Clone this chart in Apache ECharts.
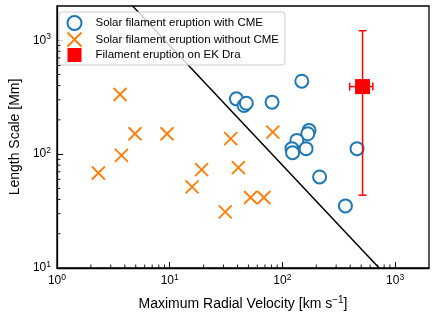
<!DOCTYPE html>
<html><head><meta charset="utf-8">
<script src="https://cdn.jsdelivr.net/npm/echarts@6/dist/echarts.min.js"></script>
<style>html,body{margin:0;padding:0;background:#fff}#c{width:436px;height:322px}</style>
</head><body><div id="c"></div>
<script>
const seriesNames = ['Solar filament eruption with CME', 'Solar filament eruption without CME', 'Filament eruption on EK Dra'];
const withCME = [[39.1,306],[45.7,267.5],[47.9,280],[81,286],[148.7,437],[172.4,161.6],[168,151],[134.4,132],[121.5,111.7],[123.2,103],[162.3,111.7],[214,63],[459.6,111.7],[362.6,35.1]];
const withoutCME = [[2.33,68.3],[3.63,334],[3.73,97.6],[4.92,151],[9.47,151],[15.8,51.5],[19.2,73.2],[31.1,31.1],[34.8,136.7],[40.7,76.2],[52.2,41.6],[68.5,41.6],[82.2,156]];
const ekDra = [[514.6,392]];
// v, L, vLow, vHigh, LLow, LHigh
const ekDraErr = [[514.6,392,395.6,635,43.6,1213]];
const boundary = [[4.69,2000],[722,10]];
const xMinorTicks = [2,3,4,5,6,7,8,9,20,30,40,50,60,70,80,90,200,300,400,500,600,700,800,900];
const yMinorTicks = [20,30,40,50,60,70,80,90,200,300,400,500,600,700,800,900];
const xRange = [1, 2000];
const yRange = [10, 2000];

const FONT = 'Liberation Sans';
function powLabel(v) {
  const e = Math.log10(v);
  if (Math.abs(e - Math.round(e)) > 1e-6 || v >= 1999) return '';
  return '{b|10}{s|' + Math.round(e) + '}';
}
const labelRich = {
  b: {fontSize: 12, fontFamily: FONT, color: '#000'},
  s: {fontSize: 8.5, fontFamily: FONT, color: '#000', verticalAlign: 'top', padding: [0,0,7,0]}
};
const SQUARE = 'path://M0,0L10,0L10,10L0,10Z';
const CROSS = 'path://M0,0L10,10M10,0L0,10';
const chart = echarts.init(document.getElementById('c'), null, {renderer: 'canvas'});
chart.setOption({
  animation: false,
  backgroundColor: '#fff',
  grid: {left: 53, top: 6, width: 376, height: 262, show: true, borderColor: '#000', borderWidth: 1.3, backgroundColor: 'transparent'},
  legend: {
    data: [
      {name: seriesNames[0], icon: 'emptyCircle'},
      {name: seriesNames[1], icon: CROSS},
      {name: seriesNames[2], icon: SQUARE}
    ],
    orient: 'vertical', left: 59, top: 12,
    itemWidth: 30, itemHeight: 14, itemGap: -1,
    padding: [3, 6, 3, 6],
    backgroundColor: 'rgba(255,255,255,0.8)', borderColor: '#cccccc', borderWidth: 1, borderRadius: 3,
    textStyle: {fontFamily: FONT, fontSize: 11.5, color: '#000', padding: [0,0,0,1]},
    selectedMode: false
  },
  xAxis: {
    type: 'log', logBase: 10, min: xRange[0], max: xRange[1],
    name: 'Maximum Radial Velocity [km s{s|−1}]', nameLocation: 'middle', nameGap: 27,
    nameTextStyle: {fontFamily: FONT, fontSize: 14, color: '#000', rich: {s: {fontSize: 10, fontFamily: FONT, color: '#000', verticalAlign: 'top', padding: [0,0,8,0]}}},
    axisLine: {show: true, lineStyle: {color: '#000', width: 1.3}},
    axisTick: {show: true, inside: true, length: 6, lineStyle: {color: '#000', width: 1}},
    axisLabel: {formatter: powLabel, rich: labelRich, margin: 5, showMaxLabel: false},
    splitLine: {show: false}
  },
  yAxis: {
    type: 'log', logBase: 10, min: yRange[0], max: yRange[1],
    name: 'Length Scale [Mm]', nameLocation: 'middle', nameGap: 30,
    nameTextStyle: {fontFamily: FONT, fontSize: 14, color: '#000'},
    axisLine: {show: true, lineStyle: {color: '#000', width: 1.3}},
    axisTick: {show: true, inside: true, length: 6, lineStyle: {color: '#000', width: 1}},
    axisLabel: {formatter: powLabel, rich: labelRich, margin: 6, showMaxLabel: false},
    splitLine: {show: false}
  },
  series: [
    {
      type: 'line', data: boundary, symbol: 'none', silent: true, z: 1,
      lineStyle: {color: '#000', width: 1.5}
    },
    {
      name: seriesNames[0], type: 'scatter', data: withCME, symbol: 'emptyCircle', symbolSize: 13, z: 3,
      itemStyle: {color: '#1f77b4', borderColor: '#1f77b4', borderWidth: 1.9, opacity: 1}
    },
    {
      name: seriesNames[1], type: 'scatter', data: withoutCME, symbol: CROSS, symbolSize: 13, z: 3,
      itemStyle: {color: 'none', borderColor: '#ff7f0e', borderWidth: 1.9, opacity: 1}
    },
    {
      type: 'custom', data: ekDraErr, z: 4, encode: {x: 0, y: 1}, silent: true,
      renderItem: function (params, api) {
        const yl = api.coord([api.value(0), api.value(4)]);
        const yh = api.coord([api.value(0), api.value(5)]);
        const xl = api.coord([api.value(2), api.value(1)]);
        const xh = api.coord([api.value(3), api.value(1)]);
        const st = {stroke: '#ff0000', lineWidth: 1.5};
        const cap = 4;
        const L = (x1, y1, x2, y2) => ({type: 'line', shape: {x1, y1, x2, y2}, style: st});
        return {type: 'group', children: [
          L(yl[0], yl[1], yh[0], yh[1]),
          L(yl[0]-cap, yl[1], yl[0]+cap, yl[1]),
          L(yh[0]-cap, yh[1], yh[0]+cap, yh[1]),
          L(xl[0], xl[1], xh[0], xh[1]),
          L(xl[0], xl[1]-cap, xl[0], xl[1]+cap),
          L(xh[0], xh[1]-cap, xh[0], xh[1]+cap)
        ]};
      }
    },
    {
      name: seriesNames[2], type: 'scatter', data: ekDra, symbol: SQUARE, symbolSize: 15, z: 5,
      itemStyle: {color: '#ff0000', opacity: 1}
    },
    {
      type: 'custom', silent: true, z: 6, encode: {x: 0, y: 1},
      data: xMinorTicks.map(v => [v, yRange[0]]),
      renderItem: function (params, api) {
        const p = api.coord([api.value(0), api.value(1)]);
        return {type: 'line', shape: {x1: p[0], y1: p[1], x2: p[0], y2: p[1]-3.5}, style: {stroke: '#000', lineWidth: 0.9}};
      }
    },
    {
      type: 'custom', silent: true, z: 6, encode: {x: 0, y: 1},
      data: yMinorTicks.map(v => [xRange[0], v]),
      renderItem: function (params, api) {
        const p = api.coord([api.value(0), api.value(1)]);
        return {type: 'line', shape: {x1: p[0], y1: p[1], x2: p[0]+3.5, y2: p[1]}, style: {stroke: '#000', lineWidth: 0.9}};
      }
    }
  ]
});
</script></body></html>
